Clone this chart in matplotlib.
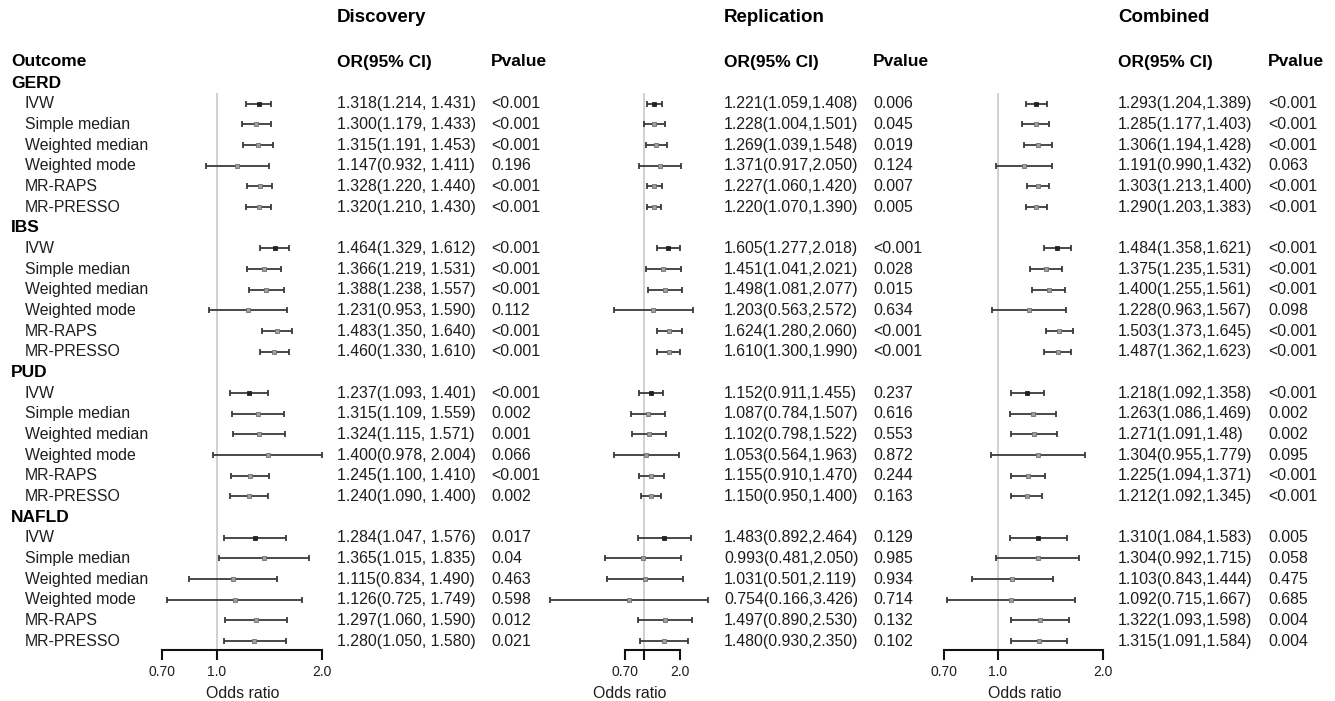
import numpy as np
import matplotlib
matplotlib.use("Agg")
import matplotlib.pyplot as plt

plt.rcParams['font.family'] = ['Liberation Sans', 'DejaVu Sans']

groups = ["GERD", "IBS", "PUD", "NAFLD"]
methods = ["IVW", "Simple median", "Weighted median", "Weighted mode", "MR-RAPS", "MR-PRESSO"]

# ---- Discovery ----
disc_or = [1.318, 1.300, 1.315, 1.147, 1.328, 1.320,
           1.464, 1.366, 1.388, 1.231, 1.483, 1.460,
           1.237, 1.315, 1.324, 1.400, 1.245, 1.240,
           1.284, 1.365, 1.115, 1.126, 1.297, 1.280]
disc_lo = [1.214, 1.179, 1.191, 0.932, 1.220, 1.210,
           1.329, 1.219, 1.238, 0.953, 1.350, 1.330,
           1.093, 1.109, 1.115, 0.978, 1.100, 1.090,
           1.047, 1.015, 0.834, 0.725, 1.060, 1.050]
disc_hi = [1.431, 1.433, 1.453, 1.411, 1.440, 1.430,
           1.612, 1.531, 1.557, 1.590, 1.640, 1.610,
           1.401, 1.559, 1.571, 2.004, 1.410, 1.400,
           1.576, 1.835, 1.490, 1.749, 1.590, 1.580]
disc_txt = ["1.318(1.214, 1.431)", "1.300(1.179, 1.433)", "1.315(1.191, 1.453)",
            "1.147(0.932, 1.411)", "1.328(1.220, 1.440)", "1.320(1.210, 1.430)",
            "1.464(1.329, 1.612)", "1.366(1.219, 1.531)", "1.388(1.238, 1.557)",
            "1.231(0.953, 1.590)", "1.483(1.350, 1.640)", "1.460(1.330, 1.610)",
            "1.237(1.093, 1.401)", "1.315(1.109, 1.559)", "1.324(1.115, 1.571)",
            "1.400(0.978, 2.004)", "1.245(1.100, 1.410)", "1.240(1.090, 1.400)",
            "1.284(1.047, 1.576)", "1.365(1.015, 1.835)", "1.115(0.834, 1.490)",
            "1.126(0.725, 1.749)", "1.297(1.060, 1.590)", "1.280(1.050, 1.580)"]
disc_p = ["<0.001", "<0.001", "<0.001", "0.196", "<0.001", "<0.001",
          "<0.001", "<0.001", "<0.001", "0.112", "<0.001", "<0.001",
          "<0.001", "0.002", "0.001", "0.066", "<0.001", "0.002",
          "0.017", "0.04", "0.463", "0.598", "0.012", "0.021"]

# ---- Replication ----
rep_or = [1.221, 1.228, 1.269, 1.371, 1.227, 1.220,
          1.605, 1.451, 1.498, 1.203, 1.624, 1.610,
          1.152, 1.087, 1.102, 1.053, 1.155, 1.150,
          1.483, 0.993, 1.031, 0.754, 1.497, 1.480]
rep_lo = [1.059, 1.004, 1.039, 0.917, 1.060, 1.070,
          1.277, 1.041, 1.081, 0.563, 1.280, 1.300,
          0.911, 0.784, 0.798, 0.564, 0.910, 0.950,
          0.892, 0.481, 0.501, 0.166, 0.890, 0.930]
rep_hi = [1.408, 1.501, 1.548, 2.050, 1.420, 1.390,
          2.018, 2.021, 2.077, 2.572, 2.060, 1.990,
          1.455, 1.507, 1.522, 1.963, 1.470, 1.400,
          2.464, 2.050, 2.119, 3.426, 2.530, 2.350]
rep_txt = ["1.221(1.059,1.408)", "1.228(1.004,1.501)", "1.269(1.039,1.548)",
           "1.371(0.917,2.050)", "1.227(1.060,1.420)", "1.220(1.070,1.390)",
           "1.605(1.277,2.018)", "1.451(1.041,2.021)", "1.498(1.081,2.077)",
           "1.203(0.563,2.572)", "1.624(1.280,2.060)", "1.610(1.300,1.990)",
           "1.152(0.911,1.455)", "1.087(0.784,1.507)", "1.102(0.798,1.522)",
           "1.053(0.564,1.963)", "1.155(0.910,1.470)", "1.150(0.950,1.400)",
           "1.483(0.892,2.464)", "0.993(0.481,2.050)", "1.031(0.501,2.119)",
           "0.754(0.166,3.426)", "1.497(0.890,2.530)", "1.480(0.930,2.350)"]
rep_p = ["0.006", "0.045", "0.019", "0.124", "0.007", "0.005",
         "<0.001", "0.028", "0.015", "0.634", "<0.001", "<0.001",
         "0.237", "0.616", "0.553", "0.872", "0.244", "0.163",
         "0.129", "0.985", "0.934", "0.714", "0.132", "0.102"]

# ---- Combined ----
com_or = [1.293, 1.285, 1.306, 1.191, 1.303, 1.290,
          1.484, 1.375, 1.400, 1.228, 1.503, 1.487,
          1.218, 1.263, 1.271, 1.304, 1.225, 1.212,
          1.310, 1.304, 1.103, 1.092, 1.322, 1.315]
com_lo = [1.204, 1.177, 1.194, 0.990, 1.213, 1.203,
          1.358, 1.235, 1.255, 0.963, 1.373, 1.362,
          1.092, 1.086, 1.091, 0.955, 1.094, 1.092,
          1.084, 0.992, 0.843, 0.715, 1.093, 1.091]
com_hi = [1.389, 1.403, 1.428, 1.432, 1.400, 1.383,
          1.621, 1.531, 1.561, 1.567, 1.645, 1.623,
          1.358, 1.469, 1.480, 1.779, 1.371, 1.345,
          1.583, 1.715, 1.444, 1.667, 1.598, 1.584]
com_txt = ["1.293(1.204,1.389)", "1.285(1.177,1.403)", "1.306(1.194,1.428)",
           "1.191(0.990,1.432)", "1.303(1.213,1.400)", "1.290(1.203,1.383)",
           "1.484(1.358,1.621)", "1.375(1.235,1.531)", "1.400(1.255,1.561)",
           "1.228(0.963,1.567)", "1.503(1.373,1.645)", "1.487(1.362,1.623)",
           "1.218(1.092,1.358)", "1.263(1.086,1.469)", "1.271(1.091,1.48)",
           "1.304(0.955,1.779)", "1.225(1.094,1.371)", "1.212(1.092,1.345)",
           "1.310(1.084,1.583)", "1.304(0.992,1.715)", "1.103(0.843,1.444)",
           "1.092(0.715,1.667)", "1.322(1.093,1.598)", "1.315(1.091,1.584)"]
com_p = ["<0.001", "<0.001", "<0.001", "0.063", "<0.001", "<0.001",
         "<0.001", "<0.001", "<0.001", "0.098", "<0.001", "<0.001",
         "<0.001", "0.002", "0.002", "0.095", "<0.001", "<0.001",
         "0.005", "0.058", "0.475", "0.685", "0.004", "0.004"]

panel_titles = ["Discovery", "Replication", "Combined"]
xticks = [0.70, 1.0, 2.0]
xtick_labels = [["0.70", "1.0", "2.0"], ["0.70", "", "2.0"], ["0.70", "1.0", "2.0"]]

# ---------------- layout ----------------
W, H = 1335, 701
DPI = 100
fig = plt.figure(figsize=(W / DPI, H / DPI), dpi=DPI)
fig.patch.set_facecolor("white")

ROW0 = 83.0      # pixel y of first row (GERD header)
DY = 20.67       # row spacing in pixels
AX_TOP, AX_BOT = 93.0, 650.0

BODY = 11.4
BOLD = 12.5
TITLE = 13.5
TXT_COL = "#1e1e1e"

# text overlay axis in pixel coordinates
tax = fig.add_axes([0, 0, 1, 1], zorder=5)
tax.set_xlim(0, W)
tax.set_ylim(H, 0)
tax.axis("off")
tax.patch.set_alpha(0)

def rowy(r):
    return ROW0 + r * DY

# method rows
rows = []
for g in range(len(groups)):
    for m in range(len(methods)):
        rows.append(g * 7 + 1 + m)
rows = np.array(rows)

# left label column
tax.text(11, 62, "Outcome", fontsize=BOLD, fontweight="bold", va="center", ha="left", color="black")
for g, name in enumerate(groups):
    tax.text(11, rowy(g * 7), name, fontsize=BOLD, fontweight="bold", va="center", ha="left", color="black")
    for m, meth in enumerate(methods):
        tax.text(25, rowy(g * 7 + 1 + m), meth, fontsize=BODY, va="center", ha="left", color=TXT_COL)

panels = [
    dict(est=disc_or, lo=disc_lo, hi=disc_hi, txt=disc_txt, p=disc_p,
         ax_px=(150, 335), xlim=(0.6464, 2.176), or_x=337, p_x=491),
    dict(est=rep_or, lo=rep_lo, hi=rep_hi, txt=rep_txt, p=rep_p,
         ax_px=(548, 712), xlim=(0.161, 3.682), or_x=724, p_x=873),
    dict(est=com_or, lo=com_lo, hi=com_hi, txt=com_txt, p=com_p,
         ax_px=(940, 1110), xlim=(0.684, 2.101), or_x=1118, p_x=1268),
]

r_top = (AX_TOP - ROW0) / DY
r_bot = (AX_BOT - ROW0) / DY

is_ivw = np.array([m == 0 for g in range(len(groups)) for m in range(len(methods))])

for i, pnl in enumerate(panels):
    # titles / headers
    tax.text(pnl["or_x"], 17, panel_titles[i], fontsize=TITLE, fontweight="bold", va="center", ha="left", color="black")
    tax.text(pnl["or_x"], 62, "OR(95% CI)", fontsize=BOLD, fontweight="bold", va="center", ha="left", color="black")
    tax.text(pnl["p_x"], 62, "Pvalue", fontsize=BOLD, fontweight="bold", va="center", ha="left", color="black")
    for r, t, p in zip(rows, pnl["txt"], pnl["p"]):
        tax.text(pnl["or_x"], rowy(r), t, fontsize=BODY, va="center", ha="left", color=TXT_COL)
        tax.text(pnl["p_x"], rowy(r), p, fontsize=BODY, va="center", ha="left", color=TXT_COL)

    # forest axis
    x0, x1 = pnl["ax_px"]
    ax = fig.add_axes([x0 / W, (H - AX_BOT) / H, (x1 - x0) / W, (AX_BOT - AX_TOP) / H])
    ax.set_xscale("log")
    ax.set_xlim(*pnl["xlim"])
    ax.set_ylim(r_bot, r_top)
    ax.patch.set_alpha(0)
    for s in ["top", "left", "right"]:
        ax.spines[s].set_visible(False)
    ax.spines["bottom"].set_bounds(0.70, 2.0)
    ax.spines["bottom"].set_linewidth(1.5)
    ax.spines["bottom"].set_color("#111111")
    ax.set_yticks([])
    ax.xaxis.set_minor_locator(matplotlib.ticker.NullLocator())
    ax.set_xticks(xticks)
    ax.set_xticklabels(xtick_labels[i], fontsize=10, color=TXT_COL)
    ax.tick_params(axis="x", direction="out", length=7.2, width=1.5, color="#111111", pad=3.5)
    ax.set_xlabel("Odds ratio", fontsize=BODY, color=TXT_COL)
    ax.xaxis.set_label_coords(0.5, -(693 - AX_BOT) / (AX_BOT - AX_TOP))
    ax.xaxis.label.set_va("center")

    ax.axvline(1.0, color="#c8c8c8", lw=1.2, zorder=0)

    est = np.array(pnl["est"])
    lo = np.array(pnl["lo"])
    hi = np.array(pnl["hi"])
    ax.errorbar(est, rows, xerr=[est - lo, hi - est], fmt="none",
                ecolor="#3a3a3a", elinewidth=1.3, capsize=2.2, capthick=1.3, clip_on=False, zorder=2)
    ax.plot(est[~is_ivw], rows[~is_ivw], "s", ms=2.8, mfc="#a0a0a0", mec="#707070", mew=0.6,
            linestyle="none", zorder=3, clip_on=False)
    ax.plot(est[is_ivw], rows[is_ivw], "s", ms=3.0, mfc="#222222", mec="#222222", mew=0.6,
            linestyle="none", zorder=3, clip_on=False)

fig.savefig("out.png", dpi=DPI, facecolor="white")
